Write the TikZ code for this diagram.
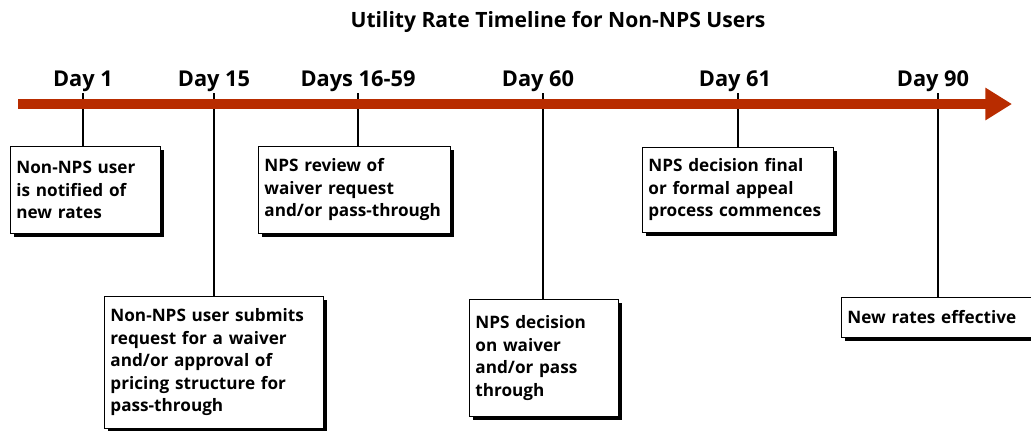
\documentclass[tikz,border=0pt]{standalone}
\usepackage{fontspec}
\setmainfont{Open Sans}
\usetikzlibrary{arrows.meta,shadows}
\definecolor{barred}{RGB}{184,44,0}

\begin{document}
\begin{tikzpicture}[x=0.025cm,y=-0.025cm,
    daylabel/.style={font=\fontsize{15.5}{17}\selectfont\bfseries},
    notebox/.style={draw=black,line width=0.6pt,fill=white,anchor=north west,align=left,
      inner xsep=0.15cm,inner ysep=0.1cm,font=\fontsize{12.2}{16}\selectfont\bfseries,
      drop shadow={shadow xshift=0.08cm,shadow yshift=-0.08cm,fill=black,opacity=1}},
    tick/.style={line width=1.4pt}]
\clip (0,0) rectangle (1031,430);
\node[font=\fontsize{15}{17}\selectfont\bfseries] (title) at (558,22) {Utility Rate Timeline for Non-NPS Users};
% days on the line
\node[daylabel] (d1) at (83,81) {Day 1};
\node[daylabel] (d15) at (214,81) {Day 15};
\node[daylabel] (d16) at (358,81) {Days 16-59};
\node[daylabel] (d60) at (538,81) {Day 60};
\node[daylabel] (d61) at (735,81) {Day 61};
\node[daylabel] (d90) at (933,81) {Day 90};
\coordinate (t1) at (83,93);
\coordinate (t15) at (214,93);
\coordinate (t16) at (358,93);
\coordinate (t60) at (543,93);
\coordinate (t61) at (738,93);
\coordinate (t90) at (938,93);
% boxes
\node[notebox,text width=3.45cm,minimum height=2.175cm] (n1) at (10,146)
  {Non-NPS user\\is notified of\\new rates};
\node[notebox,text width=5.175cm,minimum height=3.3cm] (n15) at (104,296)
  {Non-NPS user submits\\request for a waiver\\and/or approval of\\pricing structure for\\pass-through};
\node[notebox,text width=4.5cm,minimum height=2.175cm] (n16) at (258,146)
  {NPS review of\\waiver request\\and/or pass-through};
\node[notebox,text width=3.425cm,minimum height=2.925cm] (n60) at (469,299)
  {NPS decision\\on waiver\\and/or pass\\through};
\node[notebox,text width=4.475cm,minimum height=2.125cm] (n61) at (642,147)
  {NPS decision final\\or formal appeal\\process commences};
\node[notebox,text width=4.7cm,minimum height=1cm] (n90) at (841,297)
  {New rates effective};
\draw[tick] (t1) -- (t1 |- n1.north);
\draw[tick] (t15) -- (t15 |- n15.north);
\draw[tick] (t16) -- (t16 |- n16.north);
\draw[tick] (t60) -- (t60 |- n60.north);
\draw[tick] (t61) -- (t61 |- n61.north);
\draw[tick] (t90) -- (t90 |- n90.north);
% time line
\coordinate (start) at (18,104);
\coordinate (end) at (1012,104);
\draw[barred,line width=7pt,-{Triangle[length=19pt,width=22pt]}] (start) -- (end);
\end{tikzpicture}
\end{document}
